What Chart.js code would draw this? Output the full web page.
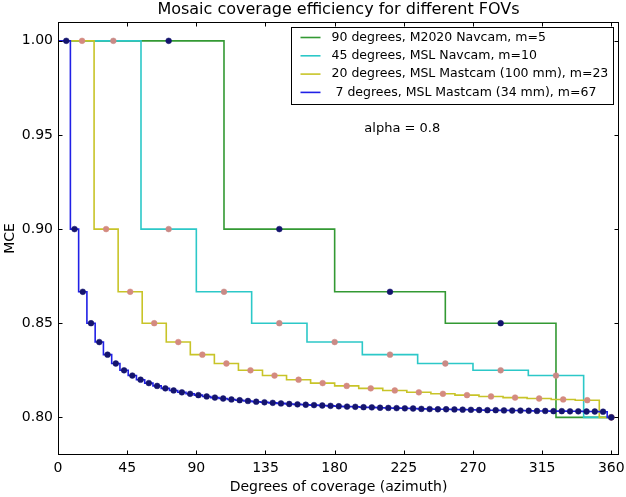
<!DOCTYPE html>
<html>
<head>
<meta charset="utf-8">
<script src="https://cdn.jsdelivr.net/npm/chart.js@4.4.0/dist/chart.umd.min.js"></script>
<style>
  html, body { margin: 0; padding: 0; background: #fff; }
</style>
</head>
<body>
<canvas id="mceChart" width="626" height="497"></canvas>
<script>
  // MCE values, one per image k = 1..m (the last one is the full 360 pan)
  const navcam90 = [1.0, 0.9, 0.8667, 0.85, 0.80];
  const navcam45 = [1.0, 0.9, 0.8667, 0.85, 0.84, 0.8333, 0.8286, 0.825, 0.8222, 0.80];
  const mastcam20 = [1.0, 0.9, 0.8667, 0.85, 0.84, 0.8333, 0.8286, 0.825, 0.8222, 0.82,
    0.8182, 0.8167, 0.8154, 0.8143, 0.8133, 0.8125, 0.8118, 0.8111, 0.8105, 0.81,
    0.8095, 0.8091, 0.80];
  const mastcam7 = [1.0, 0.9, 0.8667, 0.85, 0.84, 0.8333, 0.8286, 0.825, 0.8222, 0.82,
    0.8182, 0.8167, 0.8154, 0.8143, 0.8133, 0.8125, 0.8118, 0.8111, 0.8105, 0.81,
    0.8095, 0.8091, 0.8087, 0.8083, 0.808, 0.8077, 0.8074, 0.8071, 0.8069, 0.8067,
    0.8065, 0.8063, 0.8061, 0.8059, 0.8057, 0.8056, 0.8054, 0.8053, 0.8051, 0.805,
    0.8049, 0.8048, 0.8047, 0.8045, 0.8044, 0.8043, 0.8043, 0.8042, 0.8041, 0.804,
    0.8039, 0.8038, 0.8038, 0.8037, 0.8036, 0.8036, 0.8035, 0.8034, 0.8034, 0.8033,
    0.8033, 0.8032, 0.8032, 0.8031, 0.8031, 0.803, 0.80];

  const seriesLabels = [
    "90 degrees, M2020 Navcam, m=5",
    "45 degrees, MSL Navcam, m=10",
    "20 degrees, MSL Mastcam (100 mm), m=23",
    " 7 degrees, MSL Mastcam (34 mm), m=67"
  ];
  const xTicks = [0, 45, 90, 135, 180, 225, 270, 315, 360];
  const yTicks = [0.80, 0.85, 0.90, 0.95, 1.00];

  const lineColors = ["#339933", "#2cc8c8", "#c8c428", "#2020e6"];
  const markColors = ["#14146e", "#c98a86", "#d48a80", "#14146e"];

  // points sit at k*360/m, plus a start point at 0 deg (no marker)
  const toPoints = vals => {
    const m = vals.length;
    return [{ x: 0, y: vals[0] }].concat(vals.map((v, i) => ({ x: (i + 1) * 360 / m, y: v })));
  };

  const allSeries = [navcam90, navcam45, mastcam20, mastcam7];
  const datasets = allSeries.map((vals, i) => ({
    label: seriesLabels[i],
    data: toPoints(vals),
    stepped: "middle",
    borderColor: lineColors[i],
    borderWidth: 1.6,
    pointRadius: c => c.dataIndex === 0 ? 0 : 2.9,
    pointBackgroundColor: markColors[i],
    pointBorderColor: markColors[i],
    pointBorderWidth: 0.5,
    fill: false,
    order: 3 - i
  }));

  const F = "'DejaVu Sans', sans-serif";

  const framePlugin = {
    id: "frame",
    afterDatasetsDraw(chart) {
      const { ctx, chartArea: a, scales: { x, y } } = chart;
      ctx.save();
      const L = Math.round(a.left) + 0.5, R = Math.round(a.right) - 0.5;
      const T = Math.round(a.top) + 0.5, B = Math.round(a.bottom) - 0.5;
      ctx.strokeStyle = "#000";
      ctx.lineWidth = 1;
      ctx.strokeRect(L, T, R - L, B - T);
      ctx.beginPath();
      xTicks.forEach(v => {
        const px = Math.round(x.getPixelForValue(v)) + 0.5;
        ctx.moveTo(px, B); ctx.lineTo(px, B - 4);
        ctx.moveTo(px, T); ctx.lineTo(px, T + 4);
      });
      yTicks.forEach(v => {
        const py = Math.round(y.getPixelForValue(v)) + 0.5;
        ctx.moveTo(L, py); ctx.lineTo(L + 4, py);
        ctx.moveTo(R, py); ctx.lineTo(R - 4, py);
      });
      ctx.stroke();

      // title, centred over the axes like matplotlib
      ctx.fillStyle = "#000";
      ctx.font = "16px " + F;
      ctx.textAlign = "center";
      ctx.textBaseline = "middle";
      ctx.fillText("Mosaic coverage efficiency for different FOVs", (a.left + a.right) / 2, 10);

      // alpha note
      ctx.font = "13px " + F;
      ctx.fillText("alpha = 0.8", x.getPixelForValue(224), y.getPixelForValue(0.9535));

      // legend box
      const bx = Math.round(a.right) - 327.5, by = Math.round(a.top) + 5.5;
      ctx.fillStyle = "#fff";
      ctx.fillRect(bx, by, 322, 77);
      ctx.strokeRect(bx, by, 322, 77);
      ctx.font = "12.5px " + F;
      ctx.textAlign = "left";
      chart.data.datasets.forEach((ds, i) => {
        const ry = by + 10 + i * 18.3;
        ctx.strokeStyle = ds.borderColor;
        ctx.lineWidth = 1.6;
        ctx.beginPath();
        ctx.moveTo(bx + 9, ry); ctx.lineTo(bx + 29, ry);
        ctx.stroke();
        ctx.fillStyle = "#000";
        ctx.fillText(ds.label, bx + 40, ry);
      });
      ctx.restore();
    }
  };

  const chart = new Chart(document.getElementById("mceChart"), {
    type: "line",
    data: { datasets },
    options: {
      responsive: false,
      animation: false,
      layout: { padding: { left: 0, right: 7, top: 22, bottom: 0 } },
      plugins: {
        legend: { display: false },
        tooltip: { enabled: false }
      },
      scales: {
        x: {
          type: "linear",
          min: 0,
          max: 365,
          afterBuildTicks: s => { s.ticks = xTicks.map(v => ({ value: v })); },
          afterFit: s => { s.height = 42; s.paddingLeft = 0; s.paddingRight = 0; },
          grid: { display: false, drawTicks: false },
          border: { display: false },
          ticks: { color: "#000", font: { family: F, size: 14 }, padding: 5, maxRotation: 0 },
          title: {
            display: true,
            text: "Degrees of coverage (azimuth)",
            color: "#000",
            font: { family: F, size: 14 },
            padding: { top: 0, bottom: 1 }
          }
        },
        y: {
          min: 0.78,
          max: 1.01,
          afterBuildTicks: s => { s.ticks = yTicks.map(v => ({ value: v })); },
          afterFit: s => { s.width = 58; s.paddingTop = 0; s.paddingBottom = 0; },
          grid: { display: false, drawTicks: false },
          border: { display: false },
          ticks: { color: "#000", font: { family: F, size: 14 }, padding: 5, callback: v => v.toFixed(2) },
          title: {
            display: true,
            text: "MCE",
            color: "#000",
            font: { family: F, size: 14 },
            padding: { top: 2, bottom: 0 }
          }
        }
      }
    },
    plugins: [framePlugin]
  });
</script>
</body>
</html>
